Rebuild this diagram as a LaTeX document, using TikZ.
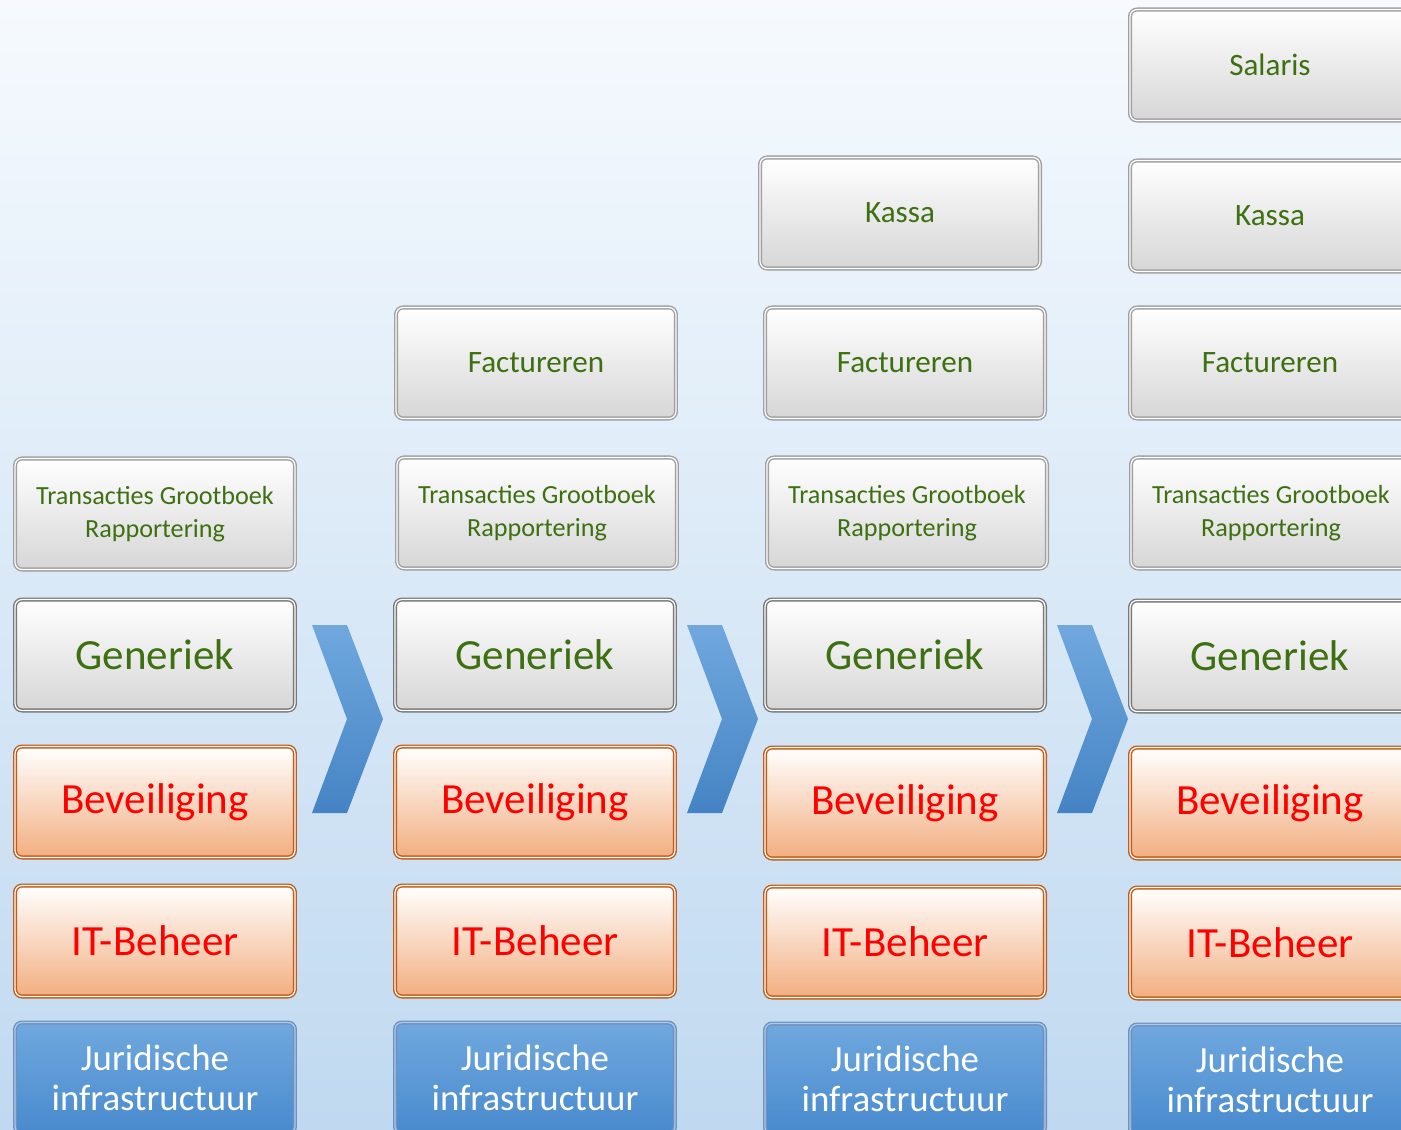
\documentclass[tikz,border=0pt]{standalone}
\usepackage{fontspec}
\setmainfont{Carlito}
\usetikzlibrary{positioning,shadings}

\definecolor{lblgreen}{RGB}{62,112,18}
\definecolor{bggtop}{RGB}{246,250,254}
\definecolor{bggbot}{RGB}{192,217,240}
\definecolor{boxgrey}{RGB}{214,214,214}
\definecolor{rimgrey}{RGB}{160,160,160}
\definecolor{rimdark}{RGB}{120,120,120}
\definecolor{boxorange}{RGB}{242,174,128}
\definecolor{rimorange}{RGB}{196,90,22}
\definecolor{boxbluetop}{RGB}{112,168,222}
\definecolor{boxbluebot}{RGB}{72,138,206}
\definecolor{rimblue}{RGB}{112,144,190}

\begin{document}
\begin{tikzpicture}[x=0.02cm,y=-0.02cm,
  blk/.style={rectangle,rounded corners=4pt,minimum width=5.6cm,
    minimum height=2.22cm,inner sep=2pt,align=center,
    line width=0.8pt,double distance=0.7pt},
  mod/.style={blk,draw=rimgrey,double=white,top color=white,
    bottom color=boxgrey,text=lblgreen,font=\fontsize{17.7}{21}\selectfont},
  modsmall/.style={mod,font=\fontsize{14.9}{18.7}\selectfont},
  gen/.style={blk,draw=rimdark,double=white,top color=white,
    bottom color=boxgrey,text=lblgreen,font=\fontsize{24.5}{28}\selectfont},
  org/.style={blk,draw=rimorange,double=white,top color=white,
    bottom color=boxorange,text=red,font=\fontsize{24.5}{28}\selectfont},
  jur/.style={blk,draw=rimblue,double=boxbluetop!60,top color=boxbluetop,
    bottom color=boxbluebot,text=white,font=\fontsize{21}{22.7}\selectfont},
  chev/.style={top color=boxbluetop,bottom color=boxbluebot!95!black}]

\shade[top color=bggtop,bottom color=bggbot] (0,0) rectangle (1401,1130);
\clip (0,0) rectangle (1401,1130);

% kolom 1
\node[modsmall] (trans1) at (155,514) {Transacties Grootboek\\Rapportering};
\node[gen] (gen1) at (155,655) {Generiek};
\node[org] (bev1) at (155,802) {Beveiliging};
\node[org] (it1) at (155,941) {IT-Beheer};
\node[jur] (jur1) at (155,1078) {Juridische\\infrastructuur};

% kolom 2
\node[mod] (fact2) at (536,363) {Factureren};
\node[modsmall] (trans2) at (537,513) {Transacties Grootboek\\Rapportering};
\node[gen] (gen2) at (535,655) {Generiek};
\node[org] (bev2) at (535,802) {Beveiliging};
\node[org] (it2) at (535,941) {IT-Beheer};
\node[jur] (jur2) at (535,1078) {Juridische\\infrastructuur};

% kolom 3
\node[mod] (kassa3) at (900,213) {Kassa};
\node[mod] (fact3) at (905,363) {Factureren};
\node[modsmall] (trans3) at (907,513) {Transacties Grootboek\\Rapportering};
\node[gen] (gen3) at (905,655) {Generiek};
\node[org] (bev3) at (905,803) {Beveiliging};
\node[org] (it3) at (905,942) {IT-Beheer};
\node[jur] (jur3) at (905,1079) {Juridische\\infrastructuur};

% kolom 4
\node[mod] (sal4) at (1270,65) {Salaris};
\node[mod] (kassa4) at (1270,216) {Kassa};
\node[mod] (fact4) at (1270,363) {Factureren};
\node[modsmall] (trans4) at (1271,513) {Transacties Grootboek\\Rapportering};
\node[gen] (gen4) at (1270,656) {Generiek};
\node[org] (bev4) at (1270,803) {Beveiliging};
\node[org] (it4) at (1270,943) {IT-Beheer};
\node[jur] (jur4) at (1270,1080) {Juridische\\infrastructuur};

% pijlen
\shade[chev] (312,625) -- (347,625) -- (383,719) -- (347,813)
  -- (312,813) -- (347,719) -- cycle;
\shade[chev] (687,625) -- (722,625) -- (758,719) -- (722,813)
  -- (687,813) -- (722,719) -- cycle;
\shade[chev] (1057,625) -- (1092,625) -- (1128,719) -- (1092,813)
  -- (1057,813) -- (1092,719) -- cycle;
\end{tikzpicture}
\end{document}
